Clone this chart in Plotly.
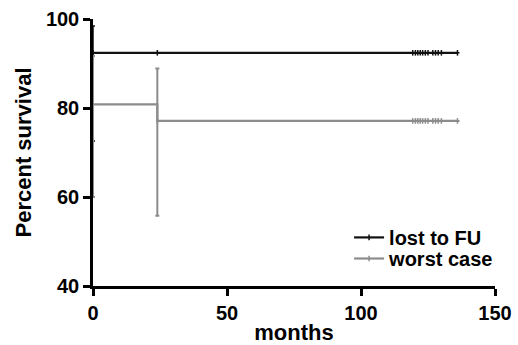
import plotly.graph_objects as go

# Data
lost_time = [0, 24, 119.3, 120.3, 121.2, 122.1, 123.0, 124.0, 125.0, 126.8, 127.8, 128.8, 130.0, 136.0]
lost_surv = [92.4] * len(lost_time)
worst_time = [0, 24, 119.3, 120.3, 121.2, 122.1, 123.0, 124.0, 125.0, 126.8, 127.8, 128.8, 130.0, 136.0]
worst_surv = [80.8, 77.1] + [77.1] * 12

# confidence limits (upper, lower) at event times
lost_err_plus = [6.0, 0] + [0] * 12
lost_err_minus = [19.8, 0] + [0] * 12
worst_err_plus = [10.9, 11.8] + [0] * 12
worst_err_minus = [20.8, 21.3] + [0] * 12

x_ticks = [0, 50, 100, 150]
y_ticks = [40, 60, 80, 100]

BLACK = "#111111"
GRAY = "#8c8c8c"

fig = go.Figure()
fig.add_trace(go.Scatter(
    x=lost_time, y=lost_surv, name="<b>lost to FU</b>", legend="legend",
    mode="lines+markers", line=dict(color=BLACK, width=2.2, shape="hv"),
    marker=dict(symbol="line-ns-open", size=4, line=dict(color=BLACK, width=1.5)),
    error_y=dict(type="data", symmetric=False, array=lost_err_plus, arrayminus=lost_err_minus,
                 color=BLACK, thickness=1.5, width=2),
    cliponaxis=False,
))
fig.add_trace(go.Scatter(
    x=worst_time, y=worst_surv, name="<b>worst case</b>", legend="legend2",
    mode="lines+markers", line=dict(color=GRAY, width=2.2, shape="hv"),
    marker=dict(symbol="line-ns-open", size=4, line=dict(color=BLACK, width=1.5)),
    error_y=dict(type="data", symmetric=False, array=worst_err_plus, arrayminus=worst_err_minus,
                 color=GRAY, thickness=2, width=2),
    cliponaxis=False,
))

font_main = "Liberation Sans, Arial, sans-serif"
leg_common = dict(xanchor="left", yanchor="top", bgcolor="rgba(0,0,0,0)",
                  font=dict(size=20, family=font_main), itemwidth=30)
fig.update_layout(
    width=518, height=345,
    margin=dict(l=93, r=23, t=19, b=59, autoexpand=False),
    paper_bgcolor="white", plot_bgcolor="white",
    font=dict(family=font_main, color="black"),
    showlegend=True,
    legend=dict(x=0.637, y=0.255, **leg_common),
    legend2=dict(x=0.637, y=0.176, **leg_common),
    xaxis=dict(range=[0, 150], tickvals=x_ticks, ticktext=[f"<b>{v}</b>" for v in x_ticks],
               showgrid=False, zeroline=False, automargin=False,
               showline=True, linecolor="black", linewidth=2.5,
               ticks="outside", ticklen=7, tickwidth=2.5, tickcolor="black",
               tickfont=dict(size=20, family=font_main),
               title=dict(text="<b>months</b>", font=dict(size=22), standoff=4)),
    yaxis=dict(range=[40, 100], tickvals=y_ticks, ticktext=[f"<b>{v}</b>" for v in y_ticks],
               showgrid=False, zeroline=False, automargin=False,
               showline=True, linecolor="black", linewidth=2.5,
               ticks="outside", ticklen=7, tickwidth=2.5, tickcolor="black",
               tickfont=dict(size=20, family=font_main),
               title=dict(text="<b>Percent survival</b>", font=dict(size=22), standoff=9)),
)

fig.write_html("out.html", config={"displayModeBar": False},
               post_script="document.body.style.margin='0';")
